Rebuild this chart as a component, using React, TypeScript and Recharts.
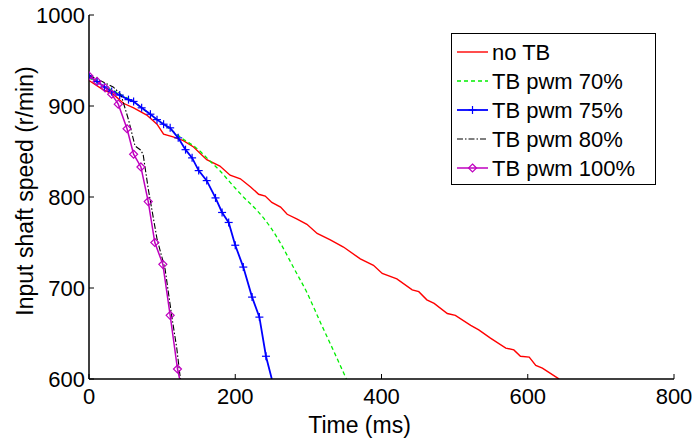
import React from "react";
import {
  LineChart,
  Line,
  XAxis,
  YAxis,
  Legend,
} from "recharts";

// time (ms), input shaft speed (r/min)
const noTB = [
  [0, 928], [19, 918], [33, 913], [47, 903], [61, 898], [79, 890], [93, 880],
  [102, 869], [115, 866], [129, 862], [143, 855], [161, 841], [179, 834],
  [193, 824], [207, 820], [221, 811], [232, 803], [241, 801], [250, 794],
  [262, 789], [271, 781], [284, 776], [298, 770], [312, 760], [330, 753],
  [348, 745], [371, 732], [389, 725], [401, 716], [421, 710], [442, 698],
  [451, 696], [462, 687], [472, 683], [490, 672], [501, 670], [522, 659],
  [533, 654], [549, 645], [570, 634], [581, 632], [590, 625], [602, 624],
  [611, 615], [620, 612], [641, 601], [643, 600],
];

const pwm70 = [
  [0, 931], [20, 922], [40, 914], [60, 905], [80, 893], [100, 881], [115, 872],
  [130, 863], [145, 855], [166, 839], [180, 828], [193, 816], [210, 801],
  [230, 785], [248, 767], [262, 749], [280, 722], [298, 695], [316, 663],
  [335, 630], [352, 600],
];

const pwm75 = [
  [0, 933], [11, 927], [21, 921], [31, 916], [42, 912], [54, 907], [61, 905],
  [72, 898], [84, 891], [93, 885], [102, 880], [111, 876], [122, 865],
  [132, 852], [141, 843], [150, 829], [161, 818], [173, 799], [182, 783],
  [191, 772], [200, 747], [211, 723], [223, 690], [233, 668], [242, 625],
  [250, 600],
];

const pwm80 = [
  [0, 934], [15, 928], [33, 921], [42, 914], [45, 909], [54, 885], [63, 856],
  [70, 852], [74, 847], [79, 820], [81, 809], [93, 754], [104, 721],
  [113, 670], [120, 634], [125, 600],
];

const pwm100 = [
  [0, 933], [11, 927], [22, 920], [31, 913], [40, 902], [52, 875], [61, 847],
  [71, 833], [81, 795], [90, 750], [101, 726], [111, 670], [121, 611],
  [124, 600],
];

const xTicks = [0, 200, 400, 600, 800];
const yTicks = [600, 700, 800, 900, 1000];

const toRows = (pts: number[][]) => pts.map(([t, v]) => ({ t, v }));

const FONT = "'Liberation Sans', Arial, sans-serif";
const PURPLE = "#bf00bf";

const series = [
  { name: "no TB", data: toRows(noTB), color: "#ff0000", width: 1.4, dash: undefined, marker: "none", curve: "linear" },
  { name: "TB pwm 70%", data: toRows(pwm70), color: "#00ee00", width: 1.3, dash: "4 3", marker: "none", curve: "monotone" },
  { name: "TB pwm 75%", data: toRows(pwm75), color: "#0000ff", width: 1.8, dash: undefined, marker: "plus", curve: "linear" },
  { name: "TB pwm 80%", data: toRows(pwm80), color: "#000000", width: 1.1, dash: "6 2 1.5 2", marker: "none", curve: "linear" },
  { name: "TB pwm 100%", data: toRows(pwm100), color: PURPLE, width: 1.5, dash: undefined, marker: "diamond", curve: "linear" },
];

function Marker({ kind, cx, cy, color }: { kind: string; cx: number; cy: number; color: string }) {
  if (kind === "plus") {
    return (
      <g stroke={color} strokeWidth={1.2}>
        <line x1={cx - 4} y1={cy} x2={cx + 4} y2={cy} />
        <line x1={cx} y1={cy - 4} x2={cx} y2={cy + 4} />
      </g>
    );
  }
  if (kind === "diamond") {
    return (
      <path
        d={`M${cx},${cy - 4}L${cx + 4},${cy}L${cx},${cy + 4}L${cx - 4},${cy}Z`}
        fill="none"
        stroke={color}
        strokeWidth={1.2}
      />
    );
  }
  return null;
}

const makeDot = (kind: string, color: string) => (p: any) => {
  const key = `d-${kind}-${p.index}`;
  if (p.value == null || p.value < 605) return <g key={key} />;
  return (
    <g key={key}>
      <Marker kind={kind} cx={p.cx} cy={p.cy} color={color} />
    </g>
  );
};

function LegendBox() {
  return (
    <div
      style={{
        width: 205,
        height: 152,
        border: "1px solid #000",
        background: "#fff",
        boxSizing: "border-box",
      }}
    >
      <svg width={205} height={152} style={{ display: "block" }}>
        {series.map((s, i) => {
          const y = 18 + i * 29;
          return (
            <g key={s.name}>
              <line
                x1={5}
                x2={36}
                y1={y}
                y2={y}
                stroke={s.color}
                strokeWidth={s.width}
                strokeDasharray={s.dash}
              />
              <Marker kind={s.marker} cx={20.5} cy={y} color={s.color} />
              <text x={40} y={y} dy="0.35em" fontSize={22} fontFamily={FONT} fill="#000">
                {s.name}
              </text>
            </g>
          );
        })}
      </svg>
    </div>
  );
}

const tickStyle = { fontSize: 22, fontFamily: FONT, fill: "#000" };

export default function App() {
  return (
    <div style={{ position: "absolute", left: 0, top: 0, background: "#fff" }}>
      <LineChart
        width={695}
        height={441}
        margin={{ top: 15, right: 21, bottom: 0, left: 0 }}
      >
        <XAxis
          dataKey="t"
          type="number"
          domain={[0, 800]}
          ticks={xTicks}
          allowDataOverflow
          height={62}
          tickSize={-5}
          tickMargin={14}
          tick={tickStyle}
          axisLine={{ stroke: "#000", strokeWidth: 1.5 }}
          tickLine={{ stroke: "#000" }}
          label={{
            content: (p: any) => {
              const vb = p.viewBox;
              return (
                <text
                  x={vb.x + vb.width / 2 - 22}
                  y={vb.y + 54}
                  textAnchor="middle"
                  fontSize={23}
                  fontFamily={FONT}
                  fill="#000"
                >
                  Time (ms)
                </text>
              );
            },
          }}
        />
        <XAxis
          xAxisId="top"
          orientation="top"
          dataKey="t"
          type="number"
          domain={[0, 800]}
          ticks={xTicks}
          height={0}
          tickSize={-5}
          tickFormatter={() => ""}
          axisLine={{ stroke: "#000", strokeWidth: 1.5 }}
          tickLine={{ stroke: "#000" }}
        />
        <YAxis
          dataKey="v"
          type="number"
          domain={[600, 1000]}
          ticks={yTicks}
          allowDataOverflow
          width={89}
          tickSize={-5}
          tickMargin={9}
          tick={tickStyle}
          axisLine={{ stroke: "#000", strokeWidth: 1.5 }}
          tickLine={{ stroke: "#000" }}
          label={{
            content: (p: any) => {
              const vb = p.viewBox;
              const cy = vb.y + vb.height / 2 - 6;
              return (
                <text
                  x={25}
                  y={cy}
                  transform={`rotate(-90 25 ${cy})`}
                  textAnchor="middle"
                  dominantBaseline="central"
                  fontSize={23}
                  fontFamily={FONT}
                  fill="#000"
                >
                  Input shaft speed (r/min)
                </text>
              );
            },
          }}
        />
        <YAxis
          yAxisId="right"
          orientation="right"
          dataKey="v"
          type="number"
          domain={[600, 1000]}
          ticks={yTicks}
          width={0}
          tickSize={-5}
          tickFormatter={() => ""}
          axisLine={{ stroke: "#000", strokeWidth: 1.5 }}
          tickLine={{ stroke: "#000" }}
        />
        <Legend
          layout="vertical"
          align="center"
          verticalAlign="middle"
          wrapperStyle={{ left: 451, top: 33, width: 205, height: 152 }}
          content={() => <LegendBox />}
        />
        {series.map((s) => (
          <Line
            key={s.name}
            name={s.name}
            data={s.data}
            dataKey="v"
            type={s.curve as any}
            stroke={s.color}
            strokeWidth={s.width}
            strokeDasharray={s.dash}
            dot={s.marker === "none" ? false : makeDot(s.marker, s.color)}
            activeDot={false}
            isAnimationActive={false}
          />
        ))}
      </LineChart>
    </div>
  );
}
